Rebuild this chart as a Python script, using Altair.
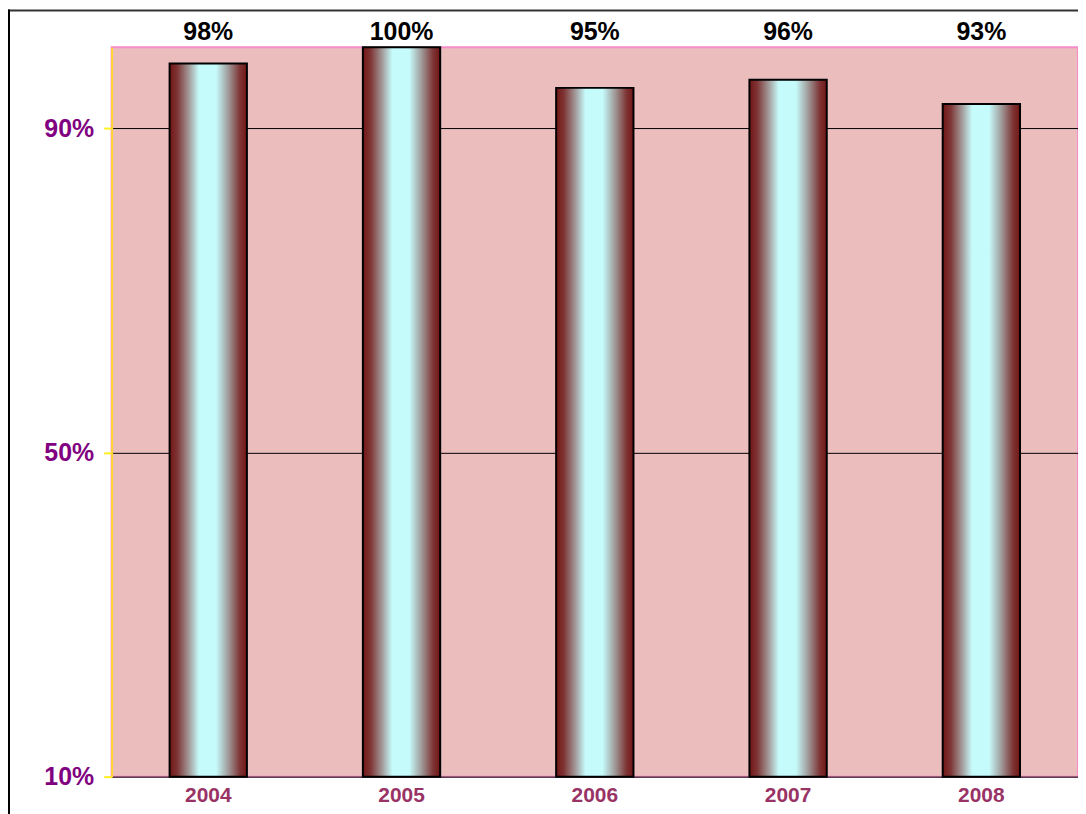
import altair as alt
import pandas as pd

years = ["2004", "2005", "2006", "2007", "2008"]
values = [98, 100, 95, 96, 93]
y_ticks = [10, 50, 90]

df = pd.DataFrame({"year": years, "value": values})

W, H = 970, 732
FONT = "Liberation Sans"

gradient = alt.LinearGradient(
    gradient="linear",
    x1=0, x2=1, y1=0, y2=0,
    stops=[
        alt.GradientStop(offset=0.0, color="#721616"),
        alt.GradientStop(offset=0.1, color="#7e3434"),
        alt.GradientStop(offset=0.25, color="#a39a9a"),
        alt.GradientStop(offset=0.38, color="#c6fbfb"),
        alt.GradientStop(offset=0.6, color="#c6fbfb"),
        alt.GradientStop(offset=0.76, color="#a09a9a"),
        alt.GradientStop(offset=0.91, color="#7e3434"),
        alt.GradientStop(offset=1.0, color="#721616"),
    ],
)

x_enc = alt.X(
    "year:N",
    sort=years,
    scale=alt.Scale(paddingInner=0.6, paddingOuter=0.3),
    axis=alt.Axis(
        title=None, labelAngle=0, ticks=False, domain=False,
        labelColor="#993366", labelFont=FONT, labelFontSize=21,
        labelFontWeight="bold", labelPadding=8,
    ),
)

y_scale = alt.Scale(domain=[10, 100], zero=False, nice=False)

bars = alt.Chart(df).mark_bar(
    fill=gradient, stroke="black", strokeWidth=2
).encode(
    x=x_enc,
    y=alt.Y(
        "value:Q",
        scale=y_scale,
        axis=alt.Axis(
            title=None, values=y_ticks, format="d",
            labelExpr="datum.value + '%'",
            labelColor="#800080", labelFont=FONT, labelFontSize=25,
            labelFontWeight="bold", labelPadding=10,
            tickColor="#ffee22", tickSize=8, tickWidth=2,
            domainColor="#ffd633", domainWidth=2,
            grid=True, gridColor="black", gridWidth=1,
        ),
    ),
    y2=alt.datum(10),
)

labels = alt.Chart(df).transform_calculate(
    lab="datum.value + '%'"
).mark_text(
    font=FONT, fontSize=25, fontWeight="bold", color="black",
    baseline="middle", align="center",
).encode(
    x=alt.X("year:N", sort=years),
    y=alt.value(-15),
    text="lab:N",
)

border_df = pd.DataFrame({"k": [0]})
top_line = alt.Chart(border_df).mark_rule(color="#333333", strokeWidth=2).encode(
    x=alt.value(-104), x2=alt.value(W + 10), y=alt.value(-37)
)
left_line = alt.Chart(border_df).mark_rule(color="black", strokeWidth=2).encode(
    x=alt.value(-103), y=alt.value(-38), y2=alt.value(H + 40)
)

chart = alt.layer(bars, labels, top_line, left_line).properties(
    width=W, height=H,
    autosize=alt.AutoSizeParams(type="none"),
    padding={"left": 104, "top": 38, "right": 0, "bottom": 36},
).configure_view(
    fill="#ebbdbd", stroke="#f58cc8", strokeWidth=2
).configure_axis(
    gridDash=[]
)

chart.save("out.html", embed_options={"renderer": "svg", "actions": False})
